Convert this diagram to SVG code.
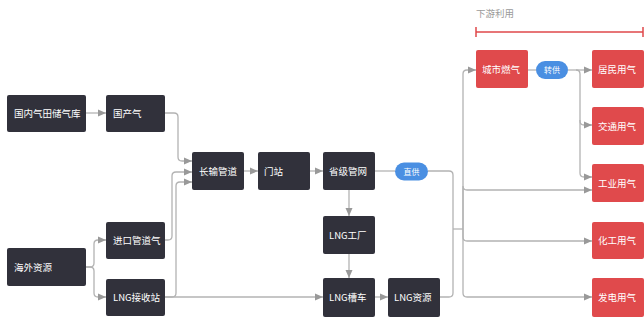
<svg xmlns="http://www.w3.org/2000/svg" width="644" height="326" viewBox="0 0 644 326">
<defs>
<style>
.d rect{fill:#31313b}
.r rect{fill:#e04a4c}
.p rect{fill:#4a8fe2}
text{font-family:"Noto Sans CJK SC","Noto Sans",sans-serif;font-size:9.5px;fill:#ffffff}
.p text{font-size:8px}
.c path{fill:none;stroke:#b3b3b3;stroke-width:1.3}
.hd{fill:#9a9a9a;font-size:9.5px}
</style>
<marker id="ah" markerWidth="8" markerHeight="8" refX="8" refY="4" orient="auto" markerUnits="userSpaceOnUse"><path d="M0,0.5 L8,4 L0,7.5 z" fill="#999"/></marker>
</defs>
<rect width="644" height="326" fill="#ffffff"/>
<g id="header">
<text class="hd" x="476" y="17">下游利用</text>
<path d="M476,32 H643 M476,27 V37 M643,27 V37" stroke="#e0484b" stroke-width="1.5" fill="none"/>
</g>
<g class="c" id="connectors">
<path d="M86,113 H106" marker-end="url(#ah)"/>
<path d="M165,113 H174 Q178,113 178,117 V157 Q178,161 182,161 H192" marker-end="url(#ah)"/>
<path d="M165,240 H168 Q172,240 172,236 V176 Q172,172 176,172 H192" marker-end="url(#ah)"/>
<path d="M165,297 H172 Q176,297 176,293 V186 Q176,182 180,182 H192" marker-end="url(#ah)"/>
<path d="M86,267 H90 Q94,267 94,263 V244 Q94,240 98,240 H106" marker-end="url(#ah)"/>
<path d="M86,267 H90 Q94,267 94,271 V293 Q94,297 98,297 H106" marker-end="url(#ah)"/>
<path d="M165,297 H323" marker-end="url(#ah)"/>
<path d="M244,171 H258" marker-end="url(#ah)"/>
<path d="M310,171 H323" marker-end="url(#ah)"/>
<path d="M375,171 H395"/>
<path d="M349,190 V216" marker-end="url(#ah)"/>
<path d="M349,254 V278" marker-end="url(#ah)"/>
<path d="M375,297 H388" marker-end="url(#ah)"/>
<path d="M440,297 H449 Q453,297 453,293 V175 Q453,171 449,171 H428"/>
<path d="M453,229 H463"/>
<path d="M463,229 V74 Q463,70 467,70 H476" marker-end="url(#ah)"/>
<path d="M463,229 V186 Q463,190 467,190 H592" marker-end="url(#ah)"/>
<path d="M463,229 V237 Q463,241 467,241 H592" marker-end="url(#ah)"/>
<path d="M463,229 V293 Q463,297 467,297 H592" marker-end="url(#ah)"/>
<path d="M528,70 H536"/>
<path d="M568,70 H592" marker-end="url(#ah)"/>
<path d="M576,70 Q580,70 580,74 V121 Q580,125 584,125 H592" marker-end="url(#ah)"/>
<path d="M580,120 V173 Q580,177 584,177 H592" marker-end="url(#ah)"/>
</g>
<g id="n1" class="d"><rect x="7" y="95" width="79" height="37" rx="2"/><text x="14" y="116.5">国内气田储气库</text></g>
<g id="n2" class="d"><rect x="106" y="95" width="59" height="37" rx="2"/><text x="113" y="116.5">国产气</text></g>
<g id="n3" class="d"><rect x="7" y="248" width="79" height="38" rx="2"/><text x="14" y="270.5">海外资源</text></g>
<g id="n4" class="d"><rect x="106" y="222" width="59" height="37" rx="2"/><text x="113" y="243.5">进口管道气</text></g>
<g id="n5" class="d"><rect x="106" y="279" width="59" height="37" rx="2"/><text x="113" y="300.5">LNG接收站</text></g>
<g id="n6" class="d"><rect x="192" y="152" width="52" height="38" rx="2"/><text x="199" y="174.5">长输管道</text></g>
<g id="n7" class="d"><rect x="258" y="152" width="52" height="38" rx="2"/><text x="264" y="174.5">门站</text></g>
<g id="n8" class="d"><rect x="323" y="152" width="52" height="38" rx="2"/><text x="329" y="174.5">省级管网</text></g>
<g id="n9" class="p"><rect x="395" y="162.5" width="33" height="18" rx="9"/><text x="411.5" y="174.5" text-anchor="middle">直供</text></g>
<g id="n10" class="d"><rect x="323" y="216" width="52" height="38" rx="2"/><text x="329" y="238.5">LNG工厂</text></g>
<g id="n11" class="d"><rect x="323" y="278" width="52" height="39" rx="2"/><text x="329" y="300.5">LNG槽车</text></g>
<g id="n12" class="d"><rect x="388" y="278" width="52" height="39" rx="2"/><text x="394" y="300.5">LNG资源</text></g>
<g id="n13" class="r"><rect x="476" y="50" width="52" height="38" rx="2"/><text x="482" y="72.5">城市燃气</text></g>
<g id="n14" class="p"><rect x="536" y="61" width="32" height="18" rx="9"/><text x="552" y="73" text-anchor="middle">转供</text></g>
<g id="n15" class="r"><rect x="592" y="50" width="52" height="38" rx="2"/><text x="598" y="72.5">居民用气</text></g>
<g id="n16" class="r"><rect x="592" y="107" width="52" height="38" rx="2"/><text x="598" y="129.5">交通用气</text></g>
<g id="n17" class="r"><rect x="592" y="164" width="52" height="38" rx="2"/><text x="598" y="186.5">工业用气</text></g>
<g id="n18" class="r"><rect x="592" y="222" width="52" height="37" rx="2"/><text x="598" y="243.5">化工用气</text></g>
<g id="n19" class="r"><rect x="592" y="278" width="52" height="39" rx="2"/><text x="598" y="300.5">发电用气</text></g>
</svg>
